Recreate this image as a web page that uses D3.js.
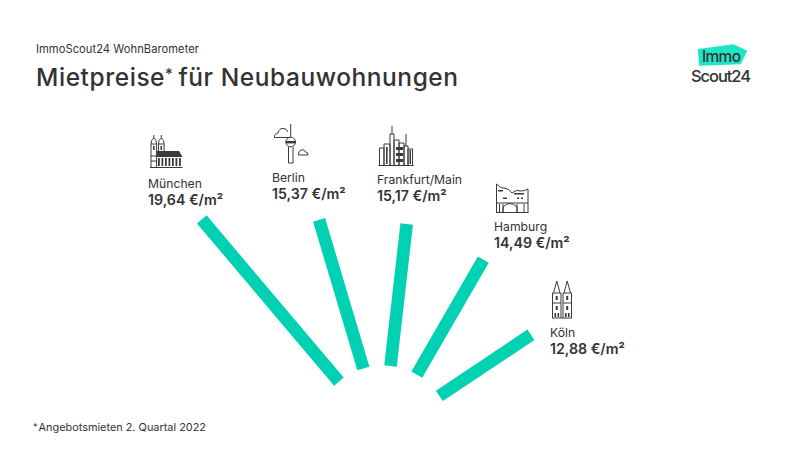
<!DOCTYPE html>
<html>
<head>
<meta charset="utf-8">
<script src="https://cdn.jsdelivr.net/npm/d3@7"></script>
<style>
  html, body { margin: 0; background: #fff; }
  svg { display: block; }
  text { font-family: Inter, "Open Sans", sans-serif; fill: #333; }
  .icon path, .icon rect, .icon circle, .icon line { fill: none; stroke: #3a3a3a; stroke-width: 1; }
  .icon .solid { fill: #3a3a3a; stroke: none; }
</style>
</head>
<body>
<svg id="chart" width="785" height="455"></svg>
<script>
const cities = ["München", "Berlin", "Frankfurt/Main", "Hamburg", "Köln"];
const prices = [19.64, 15.37, 15.17, 14.49, 12.88];
const priceLabels = ["19,64 €/m²", "15,37 €/m²", "15,17 €/m²", "14,49 €/m²", "12,88 €/m²"];

const svg = d3.select("#chart");
const teal = "#00d1b2";

// bars fan out from a point below the chart, angle in degrees from vertical
const center = {x: 382.8, y: 433.6};
const angle = d3.scaleOrdinal().domain(cities).range([-40.2, -16.6, 6.5, 30, 56.3]);
// bar lengths in the original are not strictly proportional, so piecewise
const radius = d3.scaleLinear()
  .domain([12.88, 14.49, 15.17, 15.37, 19.64])
  .range([178, 201, 211, 223, 280.5]);
const innerRadius = 68;

const bars = d3.zip(cities, prices);
svg.append("g")
  .attr("transform", `translate(${center.x},${center.y})`)
  .selectAll("rect")
  .data(bars)
  .join("rect")
  .attr("x", -6.3)
  .attr("width", 12.6)
  .attr("y", d => -radius(d[1]))
  .attr("height", d => radius(d[1]) - innerRadius)
  .attr("transform", d => `rotate(${angle(d[0])})`)
  .attr("fill", teal);

// headings
svg.append("text").attr("x", 36).attr("y", 53).attr("font-size", 11.2).attr("textLength", 163).text("ImmoScout24 WohnBarometer");

const title = svg.append("text").attr("x", 36).attr("y", 86).attr("font-size", 24.5).attr("font-weight", 500)
  .attr("letter-spacing", 0.55);
title.append("tspan").text("Mietpreise");
title.append("tspan").attr("font-size", 15).attr("dy", -7).text("*");
title.append("tspan").attr("dy", 7).attr("dx", 5).text("für Neubauwohnungen");

const note = svg.append("text").attr("x", 33).attr("y", 431).attr("font-size", 10.9);
note.append("tspan").attr("font-size", 9).attr("dy", -1).text("*");
note.append("tspan").attr("dy", 1).attr("dx", 1).text("Angebotsmieten 2. Quartal 2022");

// city labels
const labelX = [148, 272, 377, 494, 550];
const labelY = [188, 182, 184, 231, 337];
const label = svg.selectAll("g.label").data(cities).join("g").attr("class", "label")
  .attr("transform", (d, i) => `translate(${labelX[i]},${labelY[i]})`);
label.append("text").attr("font-size", 12.2).text(d => d);
label.append("text").attr("y", 16.5).attr("font-size", 14.2).attr("font-weight", 600)
  .text((d, i) => priceLabels[i]);

// logo
svg.append("path").attr("d", "M697.7 49L733.3 44.3L747.3 50.7L740.7 64.3L699.3 65.7Z").attr("fill", "#1ee6c4");
svg.append("text").attr("x", 702).attr("y", 62).attr("font-size", 15.5).attr("font-weight", 500).attr("textLength", 39).text("Immo");
svg.append("text").attr("x", 691).attr("y", 81.7).attr("font-size", 16.5).attr("font-weight", 500).attr("textLength", 60).text("Scout24");

// landmark icons
const icon = (paths, solids) => {
  const g = svg.append("g").attr("class", "icon");
  paths.forEach(d => g.append("path").attr("d", d));
  (solids || []).forEach(d => g.append("path").attr("class", "solid").attr("d", d));
};

// München, Frauenkirche
icon([
  "M151 167V144Q151 139.5 153.8 138Q156.6 139.5 156.6 144V167",
  "M158.5 151V144Q158.5 139.5 161.3 138Q164.1 139.5 164.1 144V151",
  "M151 144H156.6M158.5 144H164.1M151 156H157M151 161H157M150 167.5H182.5",
  "M153.8 135V138M161.3 135V138"
], [
  "M157 151H179L182.5 157H157Z",
  "M158 158h1.8v8h-1.8zM161.5 158h1.8v8h-1.8zM165 158h1.8v8h-1.8zM168.5 158h1.8v8h-1.8zM172 158h1.8v8h-1.8zM175.5 158h1.8v8h-1.8zM179 158h1.8v8h-1.8z",
  "M153 146h1.6v4h-1.6zM160.5 146h1.6v4h-1.6z"
]);

// Berlin, Fernsehturm and clouds
icon([
  "M290.7 124V137",
  "M288.5 147V163H293V147",
  "M274.5 137.5H290M274.5 137.5Q274 134 278 133Q279 128 284 128.5Q287 129 288 132",
  "M298.5 155H308Q308.5 152 305.5 152Q304 148.5 301 150Q298 151 298.5 155Z"
], [
  "M285.8 141h9.8v2.4h-9.8z"
]);
svg.append("g").attr("class", "icon").append("circle").attr("cx", 290.7).attr("cy", 142).attr("r", 4.8);

// Frankfurt skyline
icon([
  "M379.5 165V148H384V165M384 165V144H390V165",
  "M390 165V134H394V165M392 134V126",
  "M394 165V140H399V165M399 165V143H404V165",
  "M404 165V146H408V165M408 165V149H412.5V165",
  "M406 146V134M378.5 165.5H413.5"
], [
  "M396 147h7v3h-7zM396 153h7v3h-7zM396 159h7v3h-7zM409.5 150h1.5v14h-1.5zM386 147h1.6v17h-1.6z"
]);

// Hamburg, Elbphilharmonie
icon([
  "M496.5 213V184Q501 189 506 188.5Q509 189 512 193Q516 189 521 191Q525 191 528 189V213",
  "M496.5 203H528M496.5 212.5H528",
  "M503 212.5V204M517 212.5V204M503 212.5V207Q510 200 517 207V212.5M524 212.5V204M499.5 212.5V204"
], [
  "M498 190h5v1.6h-5zM514 193h10v1.4h-10zM503 197.5h4v1.4h-4zM517 197.5h2v1.4h-2zM521 197.5h2v1.4h-2z"
]);

// Köln, Dom
icon([
  "M552.5 318V293H561V318M563 318V293H571.5V318",
  "M553.5 293L556.8 281L560 293M564 293L567.2 281L570.5 293",
  "M552.5 303H561M563 303H571.5M552 318H572"
], [
  "M555.7 296h2v4h-2zM566.2 296h2v4h-2zM555.7 306h2v4h-2zM566.2 306h2v4h-2zM554.5 313h1.6v4h-1.6zM557.5 313h1.6v4h-1.6zM565 313h1.6v4h-1.6zM568 313h1.6v4h-1.6z"
]);
</script>
</body>
</html>
